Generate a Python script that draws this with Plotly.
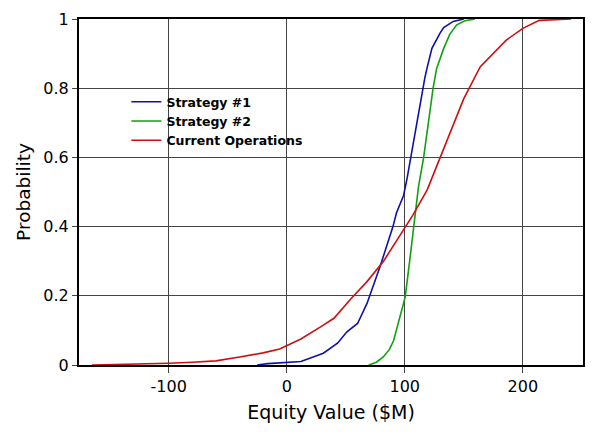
import plotly.graph_objects as go

# cumulative probability curves
s1_x = [-25, -16, 12, 31, 43, 51, 60, 68, 79, 90, 93, 99, 102, 105, 110, 114.5, 117, 119, 123, 130, 133, 141, 150]
s1_y = [0, 0.004, 0.01, 0.034, 0.063, 0.096, 0.12, 0.178, 0.284, 0.40, 0.44, 0.49, 0.54, 0.60, 0.69, 0.78, 0.83, 0.86, 0.915, 0.96, 0.975, 0.993, 1.0]

s2_x = [69.5, 76, 82, 87, 90.5, 96, 100.4, 104.6, 108.9, 111.6, 116, 120, 124, 127, 133, 138, 144, 151, 159.5]
s2_y = [0, 0.008, 0.024, 0.045, 0.07, 0.14, 0.197, 0.313, 0.43, 0.515, 0.60, 0.70, 0.80, 0.857, 0.915, 0.955, 0.983, 0.995, 1.0]

cur_x = [-165, -130, -100, -80, -60, -40, -20, -6, 0, 12, 29, 40, 54, 68, 82, 100, 107, 119, 130, 150, 164, 178, 186, 200, 214, 241]
cur_y = [0, 0.002, 0.005, 0.008, 0.012, 0.023, 0.035, 0.046, 0.056, 0.075, 0.111, 0.135, 0.19, 0.241, 0.30, 0.395, 0.434, 0.506, 0.60, 0.77, 0.862, 0.91, 0.939, 0.973, 0.996, 1.0]

x_ticks = [-100, 0, 100, 200]
x_labels = ["-100", "0", "100", "200"]
y_ticks = [0, 0.2, 0.4, 0.6, 0.8, 1]
y_labels = ["0", "0.2", "0.4", "0.6", "0.8", "1"]

FONT = "Verdana, DejaVu Sans, sans-serif"

fig = go.Figure()
fig.add_trace(go.Scatter(x=s1_x, y=s1_y, mode="lines", name="Strategy #1",
                         line=dict(color="#1010a8", width=1.6)))
fig.add_trace(go.Scatter(x=s2_x, y=s2_y, mode="lines", name="Strategy #2",
                         line=dict(color="#10a010", width=1.6)))
fig.add_trace(go.Scatter(x=cur_x, y=cur_y, mode="lines", name="Current Operations",
                         line=dict(color="#cc1010", width=1.6)))

# page body adds an 8px margin, so the figure is a bit smaller than the window
fig.update_layout(
    width=592, height=430,
    margin=dict(l=71, r=17, t=11, b=73),
    paper_bgcolor="white", plot_bgcolor="white",
    font=dict(family=FONT, color="black", size=16),
    showlegend=True,
    legend=dict(x=0.094, y=0.803, xanchor="left", yanchor="top",
                bgcolor="rgba(0,0,0,0)", borderwidth=0,
                font=dict(family=FONT, size=12.5, color="black", weight="bold"),
                tracegroupgap=0),
)
fig.update_xaxes(
    range=[-176, 251], tickvals=x_ticks, ticktext=x_labels,
    automargin=False,
    showgrid=True, gridcolor="#444444", gridwidth=1,
    showline=True, linecolor="black", linewidth=2, mirror=True,
    ticks="outside", ticklen=6, tickcolor="#444444",
    tickfont=dict(size=16),
    zeroline=False,
    title=dict(text="Equity Value ($M)", font=dict(size=19), standoff=10),
)
fig.update_yaxes(
    range=[0, 1], tickvals=y_ticks, ticktext=y_labels,
    automargin=False,
    showgrid=True, gridcolor="#444444", gridwidth=1,
    showline=True, linecolor="black", linewidth=2, mirror=True,
    ticks="outside", ticklen=5, tickcolor="#444444",
    tickfont=dict(size=16),
    zeroline=False,
    title=dict(text="Probability", font=dict(size=18.5), standoff=8),
)

fig.write_html("out.html")
